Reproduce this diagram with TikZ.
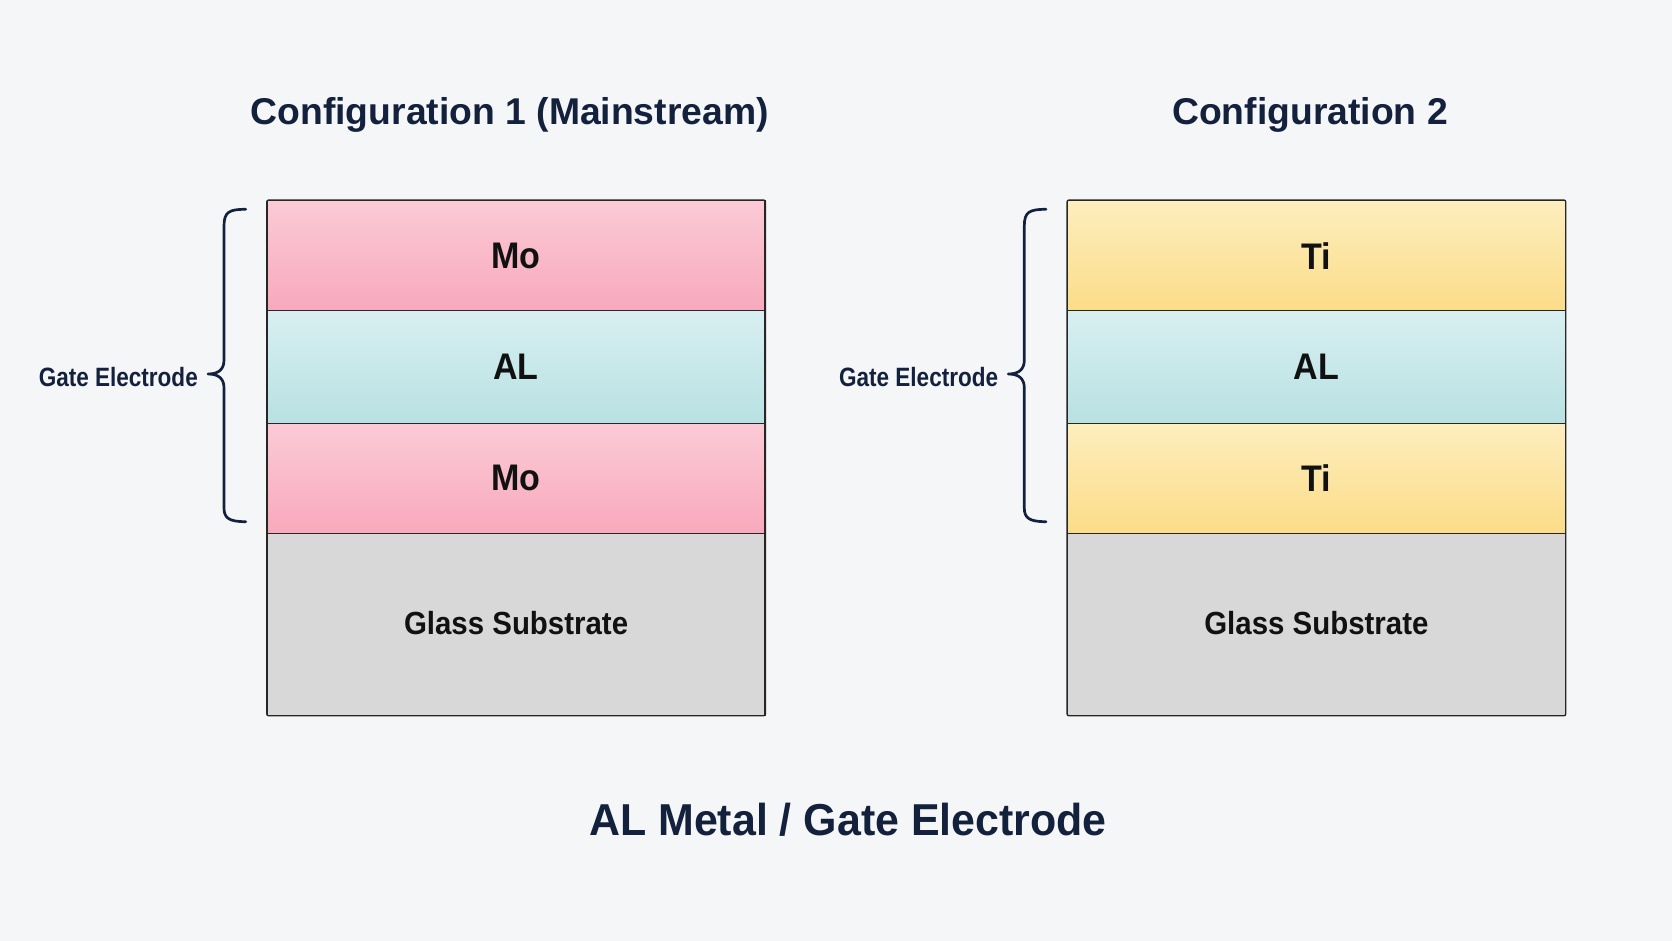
\documentclass[tikz,border=0pt]{standalone}
\usepackage{fontspec}
\setmainfont{Liberation Sans}
\newfontfamily\condfont{Liberation Sans}[FakeStretch=0.85]
\newfontfamily\layfont{Liberation Sans}[FakeStretch=0.92]
\newfontfamily\btfont{Liberation Sans}[FakeStretch=0.96]
\definecolor{bg}{HTML}{F5F6F8}
\definecolor{navy}{HTML}{14213D}
\definecolor{ink}{HTML}{111111}
\definecolor{edge}{HTML}{262626}
\definecolor{pinkT}{HTML}{FBCAD6}
\definecolor{pinkB}{HTML}{F8A9BC}
\definecolor{cyanT}{HTML}{D8EFF1}
\definecolor{cyanB}{HTML}{B8E1E2}
\definecolor{yelT}{HTML}{FDEEBE}
\definecolor{yelB}{HTML}{FBDC88}
\definecolor{glass}{HTML}{D8D8D8}
\begin{document}
\begin{tikzpicture}[x=1pt,y=-1pt,
  layer/.style={draw=edge, line width=1.3pt, minimum width=497.5pt, inner sep=0pt,
    anchor=north west, text=ink, font=\layfont\bfseries\fontsize{37}{40}\selectfont},
  mo/.style={layer, minimum height=110pt, top color=pinkT, bottom color=pinkB},
  ti/.style={layer, minimum height=110pt, top color=yelT, bottom color=yelB},
  al/.style={layer, minimum height=112.7pt, top color=cyanT, bottom color=cyanB},
  sub/.style={layer, minimum height=181.8pt, fill=glass, font=\layfont\bfseries\fontsize{32}{36}\selectfont},
  title/.style={text=navy, font=\bfseries\fontsize{37.3}{40}\selectfont, inner sep=0pt, anchor=base},
  bigtitle/.style={text=navy, font=\btfont\bfseries\fontsize{44.7}{48}\selectfont, inner sep=0pt, anchor=base},
  gatelbl/.style={text=navy, font=\condfont\bfseries\fontsize{26.5}{30}\selectfont, inner sep=0pt, anchor=east},
  bracepath/.style={draw=navy, line width=2.7pt, line cap=round, line join=round},
  frame/.style={draw=edge, line width=1.3pt, rounded corners=2pt}
]
\useasboundingbox (0,0) rectangle (1672,941);
\fill[bg] (0,0) rectangle (1672,941);

% ---- Configuration 1 ----
\node[title] (t1) at (509.7,125) {Configuration 1 (Mainstream)};
\node[mo] (m1a) at (266.7,200) {Mo};
\node[al] (a1) at (266.7,310) {AL};
\node[mo] (m1b) at (266.7,422.7) {Mo};
\node[sub] (g1) at (266.7,532.7) {\raisebox{2.3pt}{Glass Substrate}};
\draw[frame] (m1a.north west) rectangle (g1.south east);

\node[gatelbl] (e1) at (198,376.8) {Gate Electrode};
\coordinate (b1t) at (245.7,209.3);
\coordinate (b1m) at (208,374);
\coordinate (b1b) at (245.7,521.7);
\draw[bracepath] (b1t) .. controls (229,209.3) and (224,212) .. (224,226)
  -- (224,360) .. controls (224,369) and (219,374) .. (b1m)
  .. controls (219,374) and (224,379) .. (224,388)
  -- (224,508) .. controls (224,518) and (229,521.7) .. (b1b);

% ---- Configuration 2 ----
\node[title] (t2) at (1310,125) {Configuration 2};
\node[ti] (m2a) at (1067,200) {Ti};
\node[al] (a2) at (1067,310) {AL};
\node[ti] (m2b) at (1067,422.7) {Ti};
\node[sub] (g2) at (1067,532.7) {\raisebox{2.3pt}{Glass Substrate}};
\draw[frame] (m2a.north west) rectangle (g2.south east);

\node[gatelbl] (e2) at (998.3,376.8) {Gate Electrode};
\coordinate (b2t) at (1046,209.3);
\coordinate (b2m) at (1008.3,374);
\coordinate (b2b) at (1046,521.7);
\draw[bracepath] (b2t) .. controls (1029.3,209.3) and (1024.3,212) .. (1024.3,226)
  -- (1024.3,360) .. controls (1024.3,369) and (1019.3,374) .. (b2m)
  .. controls (1019.3,374) and (1024.3,379) .. (1024.3,388)
  -- (1024.3,508) .. controls (1024.3,518) and (1029.3,521.7) .. (b2b);

% ---- bottom title ----
\node[bigtitle] (bt) at (848,835) {AL Metal / Gate Electrode};
\end{tikzpicture}
\end{document}
